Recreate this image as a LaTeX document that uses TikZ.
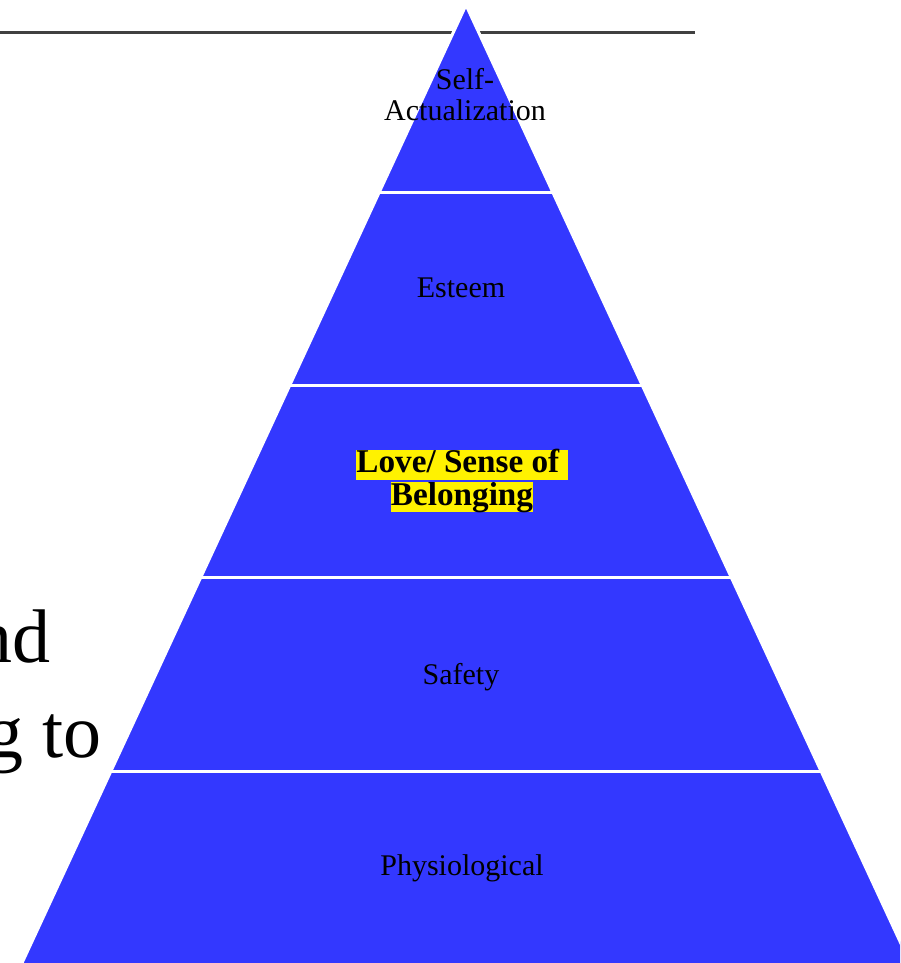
\documentclass[tikz,border=0pt]{standalone}
\usepackage{fontspec}
\setmainfont{Liberation Serif}
\usetikzlibrary{calc}
\definecolor{pyrblue}{RGB}{51,56,255}
\definecolor{rulegray}{RGB}{64,64,64}
\newcommand{\markbox}[1]{\colorbox{yellow}{\rule[-3.5pt]{0pt}{14.4pt}#1}}

\begin{document}
\begin{tikzpicture}[x=0.5pt,y=-0.5pt,
  layer/.style={fill=pyrblue,draw=white,line width=1.5pt},
  split/.style={draw=white,line width=1.5pt},
  level label/.style={anchor=base,inner sep=0pt,align=center,
    font=\fontsize{15}{15.5}\selectfont},
  big text/.style={anchor=base east,inner sep=0pt,
    font=\fontsize{38}{46}\selectfont}]
\useasboundingbox (0,0) rectangle (900,963);
\clip (0,0) rectangle (900,963);
\fboxsep=0pt

% heading rule and cut off body text
\coordinate (rule_l) at (0,33);
\coordinate (rule_r) at (695,33);
\draw[rulegray,line width=1.5pt] (rule_l) -- (rule_r);
\node[big text] (line_1) at (51,662) {nd};
\node[big text] (line_2) at (102,757) {g to};

% pyramid
\coordinate (apex) at (466,5);
\coordinate (bl) at (22,963);
\coordinate (br) at (910,963);
\path[layer] (apex) -- ($(apex)!1.05!(bl)$) -- ($(apex)!1.05!(br)$) -- cycle;
\foreach \t in {0.1952,0.3967,0.5981,0.7996}
  \draw[split] ($(apex)!\t!(bl)$) -- ($(apex)!\t!(br)$);

\node[level label] (self) at (465,120) {Self-\\Actualization};
\node[level label] (esteem) at (461,297) {Esteem};
\node[level label,font=\fontsize{16.6}{14.6}\selectfont\bfseries]
  (love) at (462,505) {\markbox{Love/ Sense of }\\\markbox{Belonging}};
\node[level label] (safety) at (461,684) {Safety};
\node[level label] (physio) at (462,875) {Physiological};
\end{tikzpicture}
\end{document}
